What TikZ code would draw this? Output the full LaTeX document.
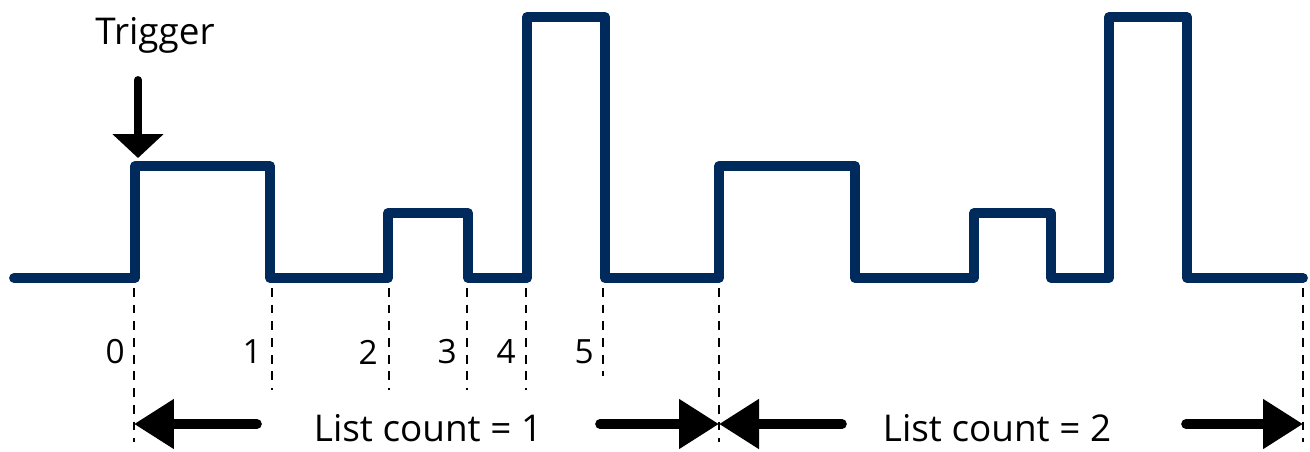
\documentclass[tikz,border=0pt]{standalone}
\usepackage{fontspec}
\setmainfont{Open Sans}
\usetikzlibrary{arrows.meta,positioning}
\definecolor{sig}{RGB}{0,42,92}
\tikzset{
  wave/.style={draw=sig,line width=5.6pt,line join=round,line cap=round},
  mark line/.style={draw=black,line width=1.6pt,dash pattern=on 5pt off 4.5pt},
  tick/.style={font=\fontsize{19}{22}\selectfont,inner sep=0pt,anchor=east},
  span/.style={-{Triangle[length=0.8cm,width=0.95cm]},line width=5.5pt,line cap=round},
  trig/.style={-{Triangle[length=0.48cm,width=1.0cm]},line width=4.5pt,line cap=round},
  lbl/.style={font=\fontsize{21}{25}\selectfont,inner sep=0pt}
}
\begin{document}
\begin{tikzpicture}[x=0.02cm,y=-0.02cm]
  \useasboundingbox (0,0) rectangle (1310,451);
  % pulse train
  \draw[wave] (14,278) -- (135,278) -- (135,166) -- (270,166) -- (270,278)
    -- (388,278) -- (388,213) -- (468,213) -- (468,278)
    -- (527,278) -- (527,17) -- (605,17) -- (605,278)
    -- (719,278) -- (719,166) -- (855,166) -- (855,278)
    -- (974,278) -- (974,213) -- (1051,213) -- (1051,278)
    -- (1109,278) -- (1109,17) -- (1187,17) -- (1187,278) -- (1303,278);
  % edge markers
  \coordinate (e0) at (134,288);   \coordinate (f0) at (134,442);
  \coordinate (e1) at (272,288);   \coordinate (f1) at (272,390);
  \coordinate (e2) at (389,288);   \coordinate (f2) at (389,390);
  \coordinate (e3) at (467,288);   \coordinate (f3) at (467,390);
  \coordinate (e4) at (526,288);   \coordinate (f4) at (526,390);
  \coordinate (e5) at (603,288);   \coordinate (f5) at (603,376);
  \coordinate (e6) at (719,288);   \coordinate (f6) at (719,442);
  \coordinate (e7) at (1303,288);  \coordinate (f7) at (1303,442);
  \foreach \i in {0,...,7}
    \draw[mark line] (e\i) -- (f\i);
  \node[tick] (t0) at (125,352) {0};
  \node[tick] (t1) at (262,352) {1};
  \node[tick] (t2) at (378,352) {2};
  \node[tick] (t3) at (457,352) {3};
  \node[tick] (t4) at (516,352) {4};
  \node[tick] (t5) at (594,352) {5};
  % trigger
  \node[lbl] (trigger) at (155,35) {Trigger};
  \coordinate (ts) at (138,80);
  \coordinate (te) at (138,158);
  \draw[trig] (ts) -- (te);
  % list counts
  \node[lbl] (c1) at (428,428) {List count = 1};
  \node[lbl] (c2) at (997,428) {List count = 2};
  \coordinate (a1) at (257,424); \coordinate (a2) at (600,424);
  \coordinate (a3) at (842,424); \coordinate (a4) at (1186,424);
  \draw[span] (a1) -- (e0 |- a1);
  \draw[span] (a2) -- (e6 |- a2);
  \draw[span] (a3) -- (e6 |- a3);
  \draw[span] (a4) -- (e7 |- a4);
\end{tikzpicture}
\end{document}
